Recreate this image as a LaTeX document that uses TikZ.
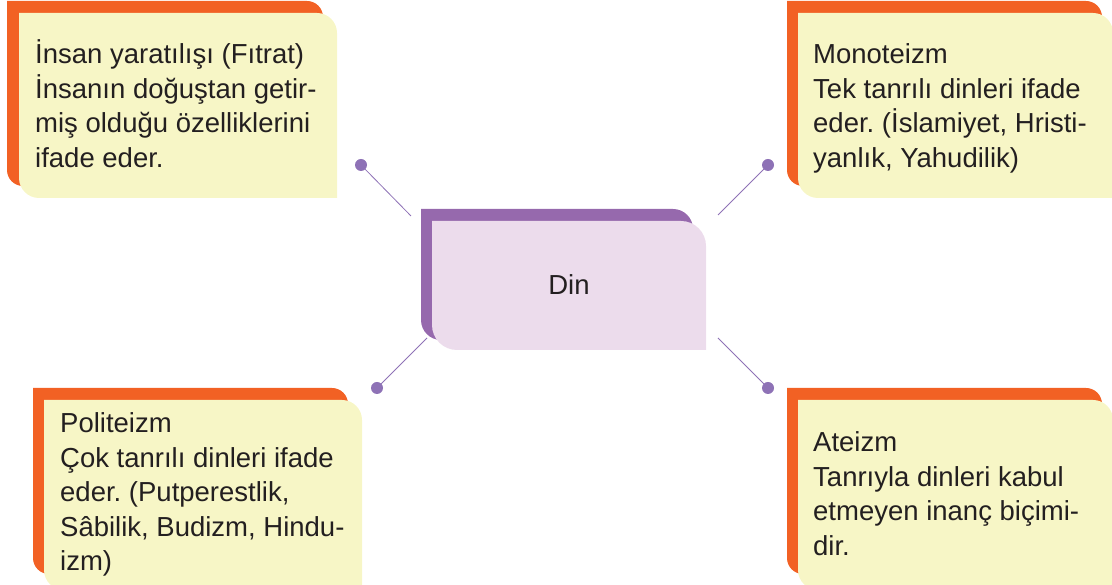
\documentclass[tikz,border=0pt]{standalone}
\usepackage{fontspec}
\setmainfont{Liberation Sans}
\frenchspacing
\definecolor{orangeC}{HTML}{F26124}
\definecolor{yellowC}{HTML}{F7F6C6}
\definecolor{purpleC}{HTML}{9669AD}
\definecolor{lilacC}{HTML}{ECDCEC}
\definecolor{lineC}{HTML}{8E72B6}
\definecolor{textC}{HTML}{231F20}
% L T R B r colour  (pixel coordinates, y measured downwards)
\newcommand{\tagbox}[6]{\fill[#6] ({#1},{585-#2}) -- ({#3-#5},{585-#2}) arc[start angle=90,end angle=0,radius=#5] -- ({#3},{585-#4}) -- ({#1+#5},{585-#4}) arc[start angle=270,end angle=180,radius=#5] -- cycle;}
\begin{document}
\begin{tikzpicture}[x=1pt,y=1pt,
  txt/.style={font=\fontsize{27.5}{34.5}\selectfont\frenchspacing, text=textC, align=left, inner sep=0pt, anchor=base west},
  dot/.style={circle, fill=lineC, inner sep=0pt, minimum size=12pt},
  link/.style={draw=lineC, line width=0.8pt}]
\useasboundingbox (0,0) rectangle (1112,585);
% top-left
\tagbox{7}{1}{323}{186}{16}{orangeC}
\tagbox{19}{13}{337}{198}{20}{yellowC}
% top-right
\tagbox{787}{1}{1102}{186}{16}{orangeC}
\tagbox{798}{13}{1113}{198}{20}{yellowC}
% bottom-left
\tagbox{33}{388}{348}{574}{16}{orangeC}
\tagbox{44}{400}{362}{590}{20}{yellowC}
% bottom-right
\tagbox{787}{388}{1102}{574}{16}{orangeC}
\tagbox{798}{400}{1113}{590}{20}{yellowC}
% centre
\tagbox{421}{209}{693}{340}{20}{purpleC}
\tagbox{432}{221}{706}{350}{25}{lilacC}
\node[txt, anchor=base] (din) at (569,290) {Din};
% texts (anchored at the baseline of their last line)
\node[txt] (tl) at (35,417.5) {İnsan yaratılışı (Fıtrat)\\İnsanın doğuştan getir-\\miş olduğu özelliklerini\\ifade eder.};
\node[txt] (tr) at (813,417.5) {Monoteizm\\Tek tanrılı dinleri ifade\\eder. (İslamiyet, Hristi-\\yanlık, Yahudilik)};
\node[txt] (bl) at (60,14) {Politeizm\\Çok tanrılı dinleri ifade\\eder. (Putperestlik,\\Sâbilik, Budizm, Hindu-\\izm)};
\node[txt] (br) at (813,29.5) {Ateizm\\Tanrıyla dinleri kabul\\etmeyen inanç biçimi-\\dir.};
% connectors
\node[dot] (d1) at (361,420) {};
\node[dot] (d2) at (768,420) {};
\node[dot] (d3) at (377,197) {};
\node[dot] (d4) at (768,197) {};
\coordinate (e1) at (411,369);
\coordinate (e2) at (718,370);
\coordinate (e3) at (427,247);
\coordinate (e4) at (718,247);
\draw[link] (d1.center) -- (e1);
\draw[link] (d2.center) -- (e2);
\draw[link] (d3.center) -- (e3);
\draw[link] (d4.center) -- (e4);
\end{tikzpicture}
\end{document}
